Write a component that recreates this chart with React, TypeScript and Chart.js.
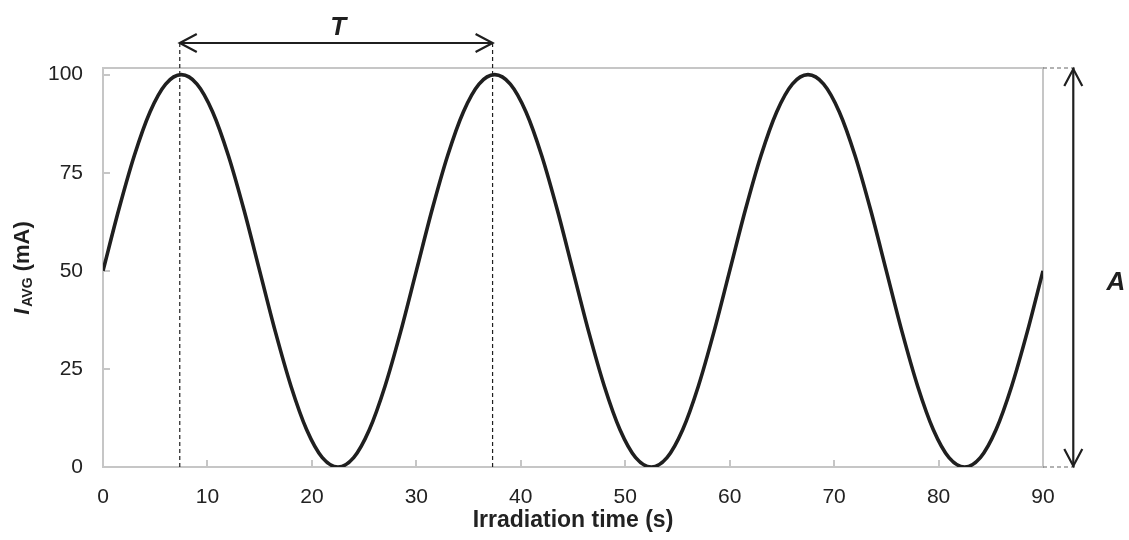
import React, { useEffect, useRef } from "react";
import { Chart, registerables } from "chart.js";

Chart.register(...registerables);

// ---- data ----
const TIMES = [0, 1.5, 3, 4.5, 6, 7.5, 9, 10.5, 12, 13.5, 15, 16.5, 18, 19.5, 21, 22.5, 24, 25.5, 27, 28.5, 30,
  31.5, 33, 34.5, 36, 37.5, 39, 40.5, 42, 43.5, 45, 46.5, 48, 49.5, 51, 52.5, 54, 55.5, 57, 58.5, 60,
  61.5, 63, 64.5, 66, 67.5, 69, 70.5, 72, 73.5, 75, 76.5, 78, 79.5, 81, 82.5, 84, 85.5, 87, 88.5, 90];
const CURRENT = [50, 65.5, 79.4, 90.5, 97.6, 100, 97.6, 90.5, 79.4, 65.5, 50, 34.5, 20.6, 9.5, 2.4, 0, 2.4, 9.5, 20.6, 34.5, 50,
  65.5, 79.4, 90.5, 97.6, 100, 97.6, 90.5, 79.4, 65.5, 50, 34.5, 20.6, 9.5, 2.4, 0, 2.4, 9.5, 20.6, 34.5, 50,
  65.5, 79.4, 90.5, 97.6, 100, 97.6, 90.5, 79.4, 65.5, 50, 34.5, 20.6, 9.5, 2.4, 0, 2.4, 9.5, 20.6, 34.5, 50];
const X_TICKS = [0, 10, 20, 30, 40, 50, 60, 70, 80, 90];
const Y_TICKS = [0, 25, 50, 75, 100];
const X_TITLE = "Irradiation time (s)";
const Y_TITLE_MAIN = "I";
const Y_TITLE_SUB = "AVG";
const Y_TITLE_REST = " (mA)";
const PERIOD_START = 7.35;
const PERIOD_END = 37.3;
const PERIOD_LABEL = "T";
const AMPLITUDE_X = 92.9;
const AMPLITUDE_LABEL = "A";
const Y_MAX = 101.7;

const FONT = '"Liberation Sans", Arial, Helvetica, sans-serif';
const FRAME = "#c6c6c6";
const INK = "#1f1f1f";

function arrowHead(ctx: CanvasRenderingContext2D, x: number, y: number, dx: number, dy: number) {
  const L = 17, W = 9;
  const px = -dy, py = dx;
  ctx.beginPath();
  ctx.moveTo(x - dx * L + px * W, y - dy * L + py * W);
  ctx.lineTo(x, y);
  ctx.lineTo(x - dx * L - px * W, y - dy * L - py * W);
  ctx.stroke();
}

const decor = {
  id: "decor",
  beforeDatasetsDraw(chart: any) {
    const { ctx, chartArea: a, scales } = chart;
    const xs = scales.x, ys = scales.y;
    ctx.save();
    ctx.strokeStyle = FRAME;
    ctx.lineWidth = 2;
    ctx.beginPath();
    ctx.moveTo(a.left, a.top);
    ctx.lineTo(a.right, a.top);
    ctx.lineTo(a.right, a.bottom);
    ctx.stroke();
    ctx.beginPath();
    X_TICKS.forEach((v) => {
      if (v === 0 || v === 90) return;
      const px = Math.round(xs.getPixelForValue(v));
      ctx.moveTo(px, a.bottom);
      ctx.lineTo(px, a.bottom - 7);
    });
    Y_TICKS.forEach((v) => {
      if (v === 0) return;
      const py = Math.round(ys.getPixelForValue(v));
      ctx.moveTo(a.left, py);
      ctx.lineTo(a.left + 7, py);
    });
    ctx.stroke();
    ctx.strokeStyle = INK;
    ctx.lineWidth = 1.2;
    ctx.setLineDash([4, 3]);
    const arrowY = a.top - 25;
    [PERIOD_START, PERIOD_END].forEach((v) => {
      const px = xs.getPixelForValue(v);
      ctx.beginPath();
      ctx.moveTo(px, arrowY);
      ctx.lineTo(px, a.bottom);
      ctx.stroke();
    });
    ctx.strokeStyle = "#666";
    const ax = xs.getPixelForValue(AMPLITUDE_X);
    [a.top, a.bottom].forEach((py) => {
      ctx.beginPath();
      ctx.moveTo(a.right, py);
      ctx.lineTo(ax + 2, py);
      ctx.stroke();
    });
    ctx.restore();
  },
  afterDraw(chart: any) {
    const { ctx, chartArea: a, scales } = chart;
    const xs = scales.x;
    ctx.save();
    ctx.strokeStyle = INK;
    ctx.lineWidth = 2.2;
    ctx.setLineDash([]);
    const arrowY = a.top - 25;
    const x1 = xs.getPixelForValue(PERIOD_START);
    const x2 = xs.getPixelForValue(PERIOD_END);
    ctx.beginPath();
    ctx.moveTo(x1, arrowY);
    ctx.lineTo(x2, arrowY);
    ctx.stroke();
    arrowHead(ctx, x1, arrowY, -1, 0);
    arrowHead(ctx, x2, arrowY, 1, 0);
    const ax = xs.getPixelForValue(AMPLITUDE_X);
    ctx.beginPath();
    ctx.moveTo(ax, a.top);
    ctx.lineTo(ax, a.bottom);
    ctx.stroke();
    arrowHead(ctx, ax, a.top + 1, 0, -1);
    arrowHead(ctx, ax, a.bottom - 1, 0, 1);
    ctx.fillStyle = INK;
    ctx.textAlign = "center";
    ctx.textBaseline = "middle";
    ctx.font = `italic bold 26px ${FONT}`;
    ctx.fillText(PERIOD_LABEL, (x1 + x2) / 2 + 2, a.top - 40);
    ctx.fillText(AMPLITUDE_LABEL, 1116, (a.top + a.bottom) / 2 + 15);
    // y title
    ctx.translate(29, 268);
    ctx.rotate(-Math.PI / 2);
    ctx.textAlign = "left";
    ctx.textBaseline = "alphabetic";
    const fMain = `italic bold 22px ${FONT}`;
    const fSub = `bold 14px ${FONT}`;
    const fRest = `bold 22px ${FONT}`;
    ctx.font = fMain; const w1 = ctx.measureText(Y_TITLE_MAIN).width + 2;
    ctx.font = fSub; const w2 = ctx.measureText(Y_TITLE_SUB).width;
    ctx.font = fRest; const w3 = ctx.measureText(Y_TITLE_REST).width;
    let x = -(w1 + w2 + w3) / 2;
    ctx.font = fMain; ctx.fillText(Y_TITLE_MAIN, x, 0); x += w1;
    ctx.font = fSub; ctx.fillText(Y_TITLE_SUB, x, 3); x += w2;
    ctx.font = fRest; ctx.fillText(Y_TITLE_REST, x, 0);
    ctx.restore();
  },
};

export default function App() {
  const ref = useRef<HTMLCanvasElement | null>(null);
  useEffect(() => {
    if (!ref.current) return;
    const chart = new Chart(ref.current, {
      type: "line",
      data: {
        labels: TIMES,
        datasets: [
          {
            data: TIMES.map((t, i) => ({ x: t, y: CURRENT[i] })),
            borderColor: INK,
            borderWidth: 3.6,
            pointRadius: 0,
            cubicInterpolationMode: "monotone",
            fill: false,
          },
        ],
      },
      options: {
        responsive: false,
        animation: false,
        events: [],
        layout: { padding: { left: 0, right: 86, top: 68, bottom: 0 } },
        plugins: { legend: { display: false }, tooltip: { enabled: false } },
        scales: {
          x: {
            type: "linear",
            min: 0,
            max: 90,
            afterBuildTicks: (s: any) => { s.ticks = X_TICKS.map((v) => ({ value: v })); },
            afterFit: (s: any) => { s.height = 73; },
            ticks: { font: { family: FONT, size: 21 }, color: "#222", padding: 18, maxRotation: 0, autoSkip: false },
            grid: { display: false, drawTicks: false },
            border: { display: true, color: FRAME, width: 2 },
            title: {
              display: true,
              text: X_TITLE,
              color: "#222",
              font: { family: FONT, size: 23, weight: "bold" },
              padding: { top: 0, bottom: 6 },
            },
          },
          y: {
            type: "linear",
            min: 0,
            max: Y_MAX,
            afterBuildTicks: (s: any) => { s.ticks = Y_TICKS.map((v) => ({ value: v })); },
            afterFit: (s: any) => { s.width = 103; },
            ticks: { font: { family: FONT, size: 21 }, color: "#222", padding: 20 },
            grid: { display: false, drawTicks: false },
            border: { display: true, color: FRAME, width: 2 },
          },
        },
      },
      plugins: [decor],
    } as any);
    return () => chart.destroy();
  }, []);
  return (
    <div style={{ position: "absolute", left: 0, top: 0, width: 1129, height: 540, background: "#fff" }}>
      <canvas ref={ref} width={1129} height={540} />
    </div>
  );
}
